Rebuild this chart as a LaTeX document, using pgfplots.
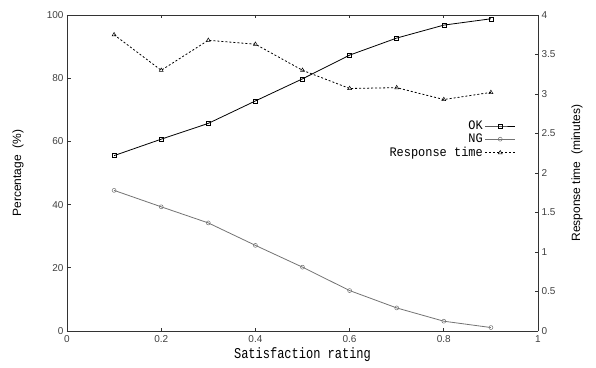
\documentclass[border=0pt]{standalone}
\usepackage{fontspec}
\setmainfont{Liberation Sans}
\newfontfamily\monof[FakeStretch=0.8]{Liberation Mono}
\newfontfamily\legf[FakeStretch=0.92]{Liberation Mono}
\usepackage{pgfplots}
\pgfplotsset{compat=1.18}
\begin{document}
\begin{tikzpicture}
\pgfplotsset{
  every axis/.style={scale only axis, width=471pt, height=316pt, at={(0,0)}, anchor=origin,
    xmin=0, xmax=1, tick align=inside, axis line style={line width=0.9pt, black!80},
    tick style={black!80, line width=0.7pt}, major tick length=3.5pt,
    /pgf/number format/assume math mode=true,
    tick label style={font=\fontsize{10}{12}\selectfont, text=black!75}}
}
\path (-67pt,-36pt) rectangle (529pt,331pt);
\begin{axis}[
  ymin=0, ymax=100,
  xtick={0,0.2,...,1}, ytick={0,20,...,100},
  axis y line*=left, axis x line*=box,
  xlabel={\monof\fontsize{15}{15}\selectfont Satisfaction rating},
  ylabel={Percentage\ \ (\%)},
  label style={font=\fontsize{12}{14}\selectfont},
  xlabel style={at={(axis description cs:0.5,-0.076)}, anchor=center},
  ylabel style={at={(axis description cs:-0.104,0.5)}, anchor=center},
  xticklabel style={/pgf/number format/fixed, yshift=-1pt},
]
\addplot[black, line width=0.8pt, mark=square, mark size=2pt, mark options={solid, line width=0.5pt}]
  coordinates {(0.1,55.5)(0.2,60.7)(0.3,65.7)(0.4,72.8)(0.5,79.8)(0.6,87.3)(0.7,92.7)(0.8,96.8)(0.9,98.8)};
\addplot[black!55, line width=0.8pt, mark=o, mark size=2pt, mark options={solid, line width=0.5pt}]
  coordinates {(0.1,44.5)(0.2,39.3)(0.3,34.2)(0.4,27.1)(0.5,20.2)(0.6,12.8)(0.7,7.3)(0.8,3.1)(0.9,1.1)};
\end{axis}
\begin{axis}[
  ymin=0, ymax=4,
  ytick={0,0.5,...,4},
  axis y line*=right, axis x line=none,
  ylabel={Response time\ \ (minutes)},
  label style={font=\fontsize{12}{14}\selectfont},
  ylabel style={at={(axis description cs:1.083,0.5)}, anchor=center, rotate=0},
  yticklabel style={/pgf/number format/fixed},
  legend style={draw=none, fill=none, at={(0.955,0.675)}, anchor=north east,
    font=\legf\fontsize{13}{10}\selectfont, row sep=-1pt, inner sep=1pt,
    cells={anchor=east}},
  legend plot pos=right,
  legend cell align=right,
  legend image code/.code={\draw[mark repeat=2,mark phase=2,#1] plot coordinates {(0pt,0pt)(15pt,0pt)(30pt,0pt)};},
]
\addlegendimage{black, line width=0.8pt, mark=square, mark size=2pt, mark options={solid, line width=0.5pt}}
\addlegendentry{OK}
\addlegendimage{black!55, line width=0.8pt, mark=o, mark size=2pt, mark options={solid, line width=0.5pt}}
\addlegendentry{NG}
\addplot[black, line width=0.8pt, dash pattern=on 2pt off 2pt, mark=triangle, mark size=2.3pt, mark options={solid, line width=0.5pt}]
  coordinates {(0.1,3.75)(0.2,3.30)(0.3,3.68)(0.4,3.63)(0.5,3.30)(0.6,3.07)(0.7,3.08)(0.8,2.93)(0.9,3.02)};
\addlegendentry{Response time}
\end{axis}
\end{tikzpicture}
\end{document}
